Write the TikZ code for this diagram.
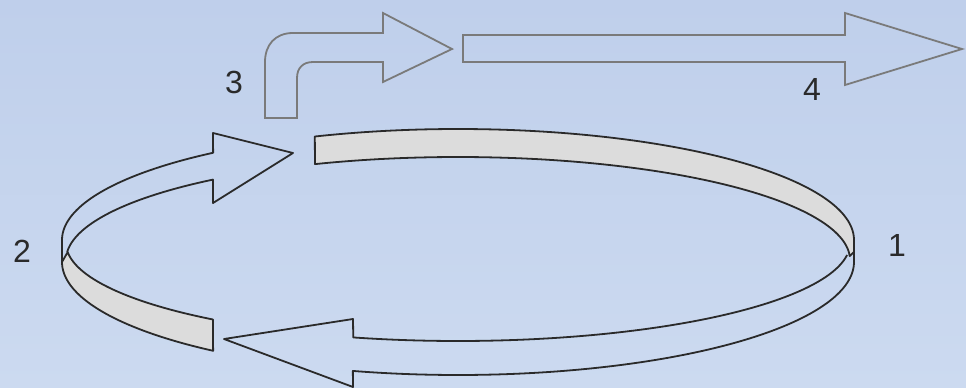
\documentclass[tikz,border=0pt]{standalone}
\usepackage{fontspec}
\setmainfont{Liberation Sans}
\definecolor{bgtop}{HTML}{BFCFEB}
\definecolor{bgbot}{HTML}{CCDAF0}
\definecolor{ringc}{HTML}{2A2A2A}
\definecolor{bandc}{HTML}{DCDCDC}
\definecolor{arrc}{HTML}{7A7A7A}
\definecolor{labc}{HTML}{2A2A2A}
\begin{document}
\begin{tikzpicture}[x=1pt,y=-1pt,
  ring/.style={draw=ringc, line width=1.8pt, line join=round},
  band/.style={ring, fill=bandc},
  hollow/.style={draw=arrc, line width=1.8pt, line join=miter},
  lbl/.style={text=labc, font=\fontsize{32}{32}\selectfont, inner sep=0pt},
  el/.style={domain=#1, samples=90, variable=\t}]
\shade[top color=bgtop, bottom color=bgbot] (0,0) rectangle (966,388);
\useasboundingbox (0,0) rectangle (966,388);
% top grey ribbon
\path[band] plot[el=248.8:360] ({458+396*cos(\t)},{240+111*sin(\t)}) -- (854,252)
  -- plot[el=357.8:248.6] ({458+392*cos(\t)},{260+103*sin(\t)}) -- cycle;
% lower-left grey band
\path[band] plot[el=180:128.2] ({458+396*cos(\t)},{262+113*sin(\t)})
  -- plot[el=128.7:174.7] ({458+392*cos(\t)},{243+98*sin(\t)}) -- cycle;
% bottom hollow arrow
\draw[ring] plot[el=7:105.5] ({458+392*cos(\t)},{243+98*sin(\t)}) -- (353,319) -- (224,339) -- (353,387)
  -- plot[el=105.4:0] ({458+396*cos(\t)},{262+113*sin(\t)}) -- (854,240);
% upper-left hollow arrow
\draw[ring] plot[el=184.5:231.3] ({458+392*cos(\t)},{260+103*sin(\t)}) -- (213,203) -- (293,153) -- (213,133)
  -- plot[el=231.8:180] ({458+396*cos(\t)},{240+111*sin(\t)}) -- (62,262);
% arrow 3 (bent)
\draw[hollow] (265,118) -- (265,62) .. controls (265,45) and (275,33) .. (293,33) -- (383,33) -- (383,13)
  -- (452,49) -- (383,82) -- (383,62) -- (313,62) .. controls (303,62) and (297,68) .. (297,78) -- (297,118) -- cycle;
% arrow 4 (straight)
\draw[hollow] (463,35) -- (845,35) -- (845,13) -- (962,49) -- (845,85) -- (845,62) -- (463,62) -- cycle;
% labels
\node[lbl] (n1) at (897,245) {1};
\node[lbl] (n2) at (22,251) {2};
\node[lbl] (n3) at (234,82) {3};
\node[lbl] (n4) at (812,89) {4};
\end{tikzpicture}
\end{document}
